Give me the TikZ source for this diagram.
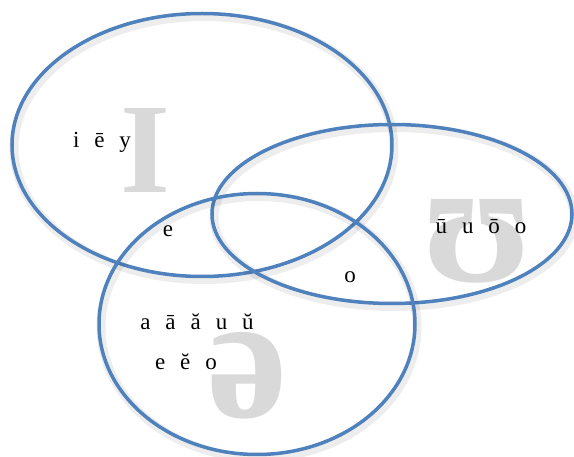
\documentclass[tikz,border=0pt]{standalone}
\usepackage{fontspec}
\usepackage{graphicx}
\setmainfont{Liberation Serif}
\usetikzlibrary{shapes.geometric}

\definecolor{ringblue}{HTML}{4F81BD}
\definecolor{glyphgrey}{HTML}{D9D9D9}
\newcommand{\vgap}{\hspace{0.65em}}

\begin{document}
\begin{tikzpicture}[
    x=1pt, y=-1pt,
    ring/.style={ellipse, draw=ringblue, line width=3.5pt, inner sep=0pt,
        preaction={draw=black, draw opacity=0.07, line width=9pt,
            transform canvas={shift={(2pt,-3pt)}}}},
    bigglyph/.style={text=glyphgrey, inner sep=0pt, font=\bfseries},
    vowels/.style={font=\fontsize{23}{28}\selectfont, inner sep=0pt},
]
    \useasboundingbox (0,0) rectangle (574,457);

    % big grey symbols
    \node[bigglyph] (bigI) at (145,150) {\resizebox{!}{84pt}{I}};
    \node[bigglyph] (bigU) at (478,241) {\resizebox{!}{82pt}{ʊ}};
    \node[bigglyph] (bigE) at (248,376) {\resizebox{!}{85pt}{ə}};

    % the three sets
    \node[ring, minimum width=380pt, minimum height=263pt] (setI) at (202,145) {};
    \node[ring, minimum width=360pt, minimum height=179pt] (setU) at (392,214) {};
    \node[ring, minimum width=316pt, minimum height=261pt] (setE) at (257,324) {};

    % vowels
    \node[vowels] (onlyI) at (102,142) {i\vgap ē\vgap y};
    \node[vowels] (IE) at (168,231) {e};
    \node[vowels] (UE) at (350,277) {o};
    \node[vowels] (onlyU) at (481,227) {ū\vgap u\vgap ō\vgap o};
    \node[vowels] (onlyE) at (197,322) {a\vgap ā\vgap ă\vgap u\vgap ŭ};
    \node[vowels] (onlyE2) at (186,362) {e\vgap ĕ\vgap o};
\end{tikzpicture}
\end{document}
